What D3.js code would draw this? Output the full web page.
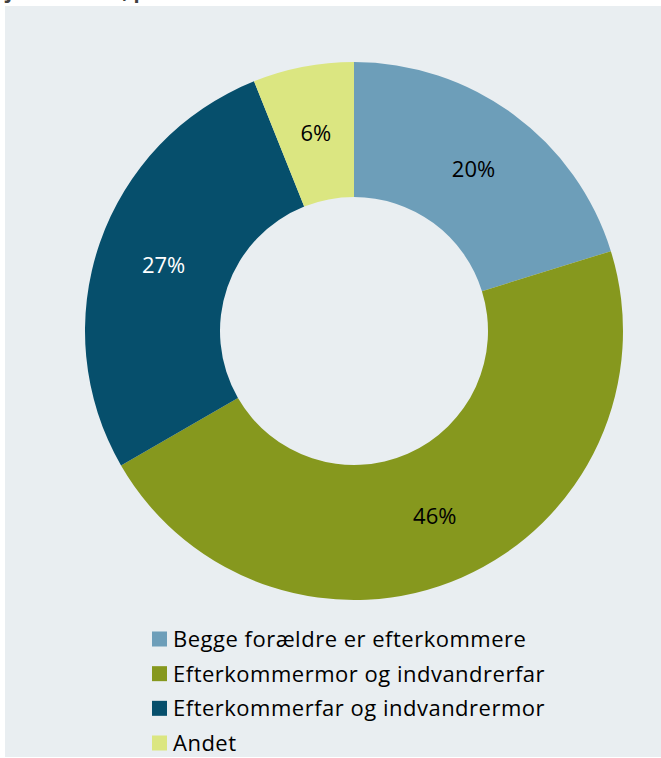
<!DOCTYPE html>
<html><head><meta charset="utf-8">
<script src="https://cdn.jsdelivr.net/npm/d3@7"></script>
<style>html,body{margin:0;padding:0;background:#fff;}svg{display:block;}</style>
</head><body>
<svg id="chart" width="661" height="758"></svg>
<script>
const categories = ["Begge forældre er efterkommere","Efterkommermor og indvandrerfar","Efterkommerfar og indvandrermor","Andet"];
const values = [20, 46, 27, 6];
const colors = ["#6D9EB9","#86981E","#064F6C","#DBE681"];
const labelColors = ["#000","#000","#fff","#000"];
const titleText = "januar 2019, procent";

const svg = d3.select("#chart");
const font = "'Open Sans', sans-serif";

svg.append("rect").attr("x",5).attr("y",6).attr("width",656).attr("height",751).attr("fill","#E9EEF1");

svg.append("text").attr("x",6).attr("y",-2).attr("font-family",font).attr("font-weight","bold")
  .attr("font-size",20).attr("fill","#404040").text(titleText);

const cx = 354, cy = 331, R = 269, r = 134;
const pie = d3.pie().sort(null).value(d=>d);
const arcs = pie(values);
const arc = d3.arc().innerRadius(r).outerRadius(R);
const g = svg.append("g").attr("transform",`translate(${cx},${cy})`);
g.selectAll("path").data(arcs).join("path").attr("d",arc).attr("fill",(d,i)=>colors[i]);
g.selectAll("text").data(arcs).join("text")
  .attr("transform",d=>`translate(${arc.centroid(d)})`)
  .attr("text-anchor","middle").attr("dy","0.36em")
  .attr("font-family",font).attr("font-size",22)
  .attr("fill",(d,i)=>labelColors[i])
  .text(d=>Math.round(d.data)+"%");

const ly = d3.scalePoint().domain(categories).range([639,743]);
const lg = svg.append("g");
const items = lg.selectAll("g").data(categories).join("g").attr("transform",d=>`translate(152,${ly(d)})`);
items.append("rect").attr("x",0).attr("y",-7.5).attr("width",15).attr("height",15).attr("fill",(d,i)=>colors[i]);
items.append("text").attr("x",21).attr("dy","0.36em").attr("font-family",font).attr("font-size",22)
  .attr("letter-spacing",0.5).attr("fill","#000").text(d=>d);
</script>
</body></html>
